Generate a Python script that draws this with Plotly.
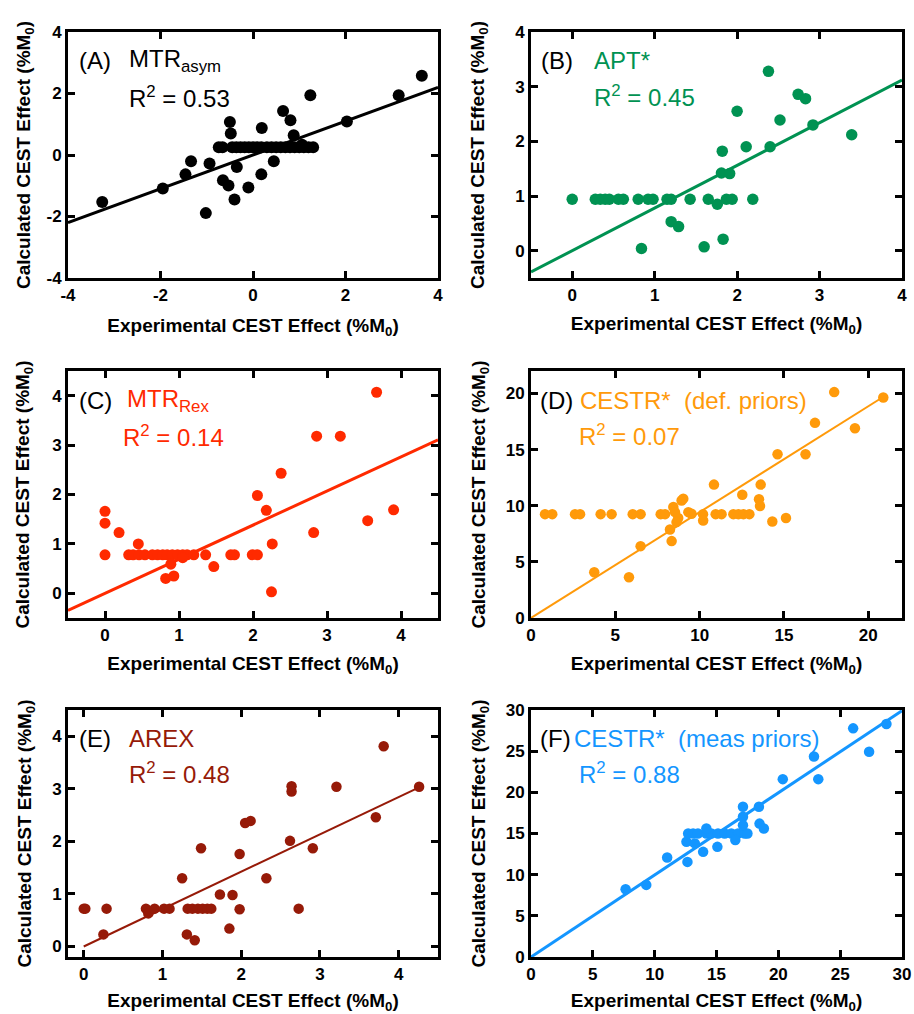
import plotly.graph_objects as go

# ---------------- data ----------------
A_x = [-3.26, -1.95, -1.46, -1.34, -1.02, -0.94, -0.65, -0.50, -0.48, -0.53, -0.40, -0.35, -0.10, 0.19, 0.18, 0.45,
       0.65, 0.81, 0.88, 1.06, 1.24, 2.03, 3.15, 3.65,
       -0.74, -0.66, -0.45, -0.36, -0.27, -0.18, -0.09, 0.0, 0.09, 0.18, 0.30, 0.40, 0.50, 0.60, 0.70, 0.80, 0.90,
       1.00, 1.10, 1.20, 1.30]
A_y = [-1.53, -1.09, -0.63, -0.20, -1.89, -0.28, -0.82, 1.07, 0.70, -0.99, -1.45, -0.39, -1.06, 0.88, -0.63, -0.20,
       1.43, 1.13, 0.64, 0.33, 1.94, 1.09, 1.94, 2.58,
       0.25, 0.25, 0.25, 0.25, 0.25, 0.25, 0.25, 0.25, 0.25, 0.25, 0.25, 0.25, 0.25, 0.25, 0.25, 0.25, 0.25,
       0.25, 0.25, 0.25, 0.25]

B_x = [0.0, 0.28, 0.34, 0.40, 0.45, 0.56, 0.62, 0.80, 0.92, 0.98, 1.15, 1.20, 1.43, 1.65, 1.87, 1.94, 2.19,
       1.76, 1.20, 1.29, 0.84, 1.60, 1.83, 1.81, 1.91, 1.82, 2.11, 2.40, 2.00, 2.52, 2.38, 2.74, 2.83, 2.92, 3.39]
B_y = [0.94, 0.94, 0.94, 0.94, 0.94, 0.94, 0.94, 0.94, 0.94, 0.94, 0.94, 0.94, 0.94, 0.94, 0.94, 0.94, 0.94,
       0.85, 0.53, 0.44, 0.04, 0.07, 0.21, 1.42, 1.41, 1.82, 1.90, 1.90, 2.55, 2.39, 3.28, 2.86, 2.78, 2.30, 2.12]

C_x = [0.0, 0.0, 0.0, 0.19, 0.45,
       0.32, 0.38, 0.46, 0.54, 0.64, 0.71, 0.78, 0.84, 0.91, 0.98, 1.05, 1.11, 1.20, 1.36, 1.70, 1.75, 1.99, 2.06,
       0.89, 0.82, 0.93, 1.05, 1.47, 2.06, 2.18, 2.26, 2.25, 2.38, 2.82, 2.86, 3.18, 3.55, 3.67, 3.90]
C_y = [1.66, 1.42, 0.78, 1.23, 1.00,
       0.78, 0.78, 0.78, 0.78, 0.78, 0.78, 0.78, 0.78, 0.78, 0.78, 0.78, 0.78, 0.78, 0.78, 0.78, 0.78, 0.78, 0.78,
       0.59, 0.30, 0.35, 0.72, 0.54, 1.98, 1.68, 1.00, 0.03, 2.43, 1.23, 3.18, 3.18, 1.47, 4.07, 1.69]

D_x = [0.83, 1.26, 2.61, 2.91, 4.13, 4.78, 6.03, 6.50, 7.69, 7.95, 10.20, 10.95, 11.30, 12.00, 12.30, 12.60, 12.95,
       3.75, 5.81, 6.50, 8.24, 8.34, 8.44, 8.54, 8.93, 9.03, 8.73, 8.63, 9.33, 9.52, 10.21, 10.85, 12.53, 13.52,
       13.58, 13.62, 14.31, 15.12, 14.62, 16.28, 16.84, 17.98, 19.21, 20.89]
D_y = [9.25, 9.25, 9.25, 9.25, 9.25, 9.25, 9.25, 9.25, 9.25, 9.25, 9.25, 9.25, 9.25, 9.25, 9.25, 9.25, 9.25,
       4.08, 3.63, 6.40, 7.89, 6.85, 9.88, 9.43, 10.47, 10.63, 8.90, 8.54, 9.43, 9.29, 8.69, 11.88, 10.98, 10.57,
       9.97, 11.88, 8.60, 8.90, 14.58, 14.58, 17.38, 20.12, 16.90, 19.64]

E_x = [0.0, 0.02, 0.29, 0.25, 0.79, 0.82, 0.90, 1.02, 1.09, 1.25, 1.32, 1.38, 1.45, 1.51, 1.57, 1.62,
       1.31, 1.41, 1.49, 1.73, 1.85, 1.89, 1.98, 1.98, 2.05, 2.12, 2.32, 2.62, 2.64, 2.64, 2.73, 2.91,
       3.21, 3.71, 3.81, 4.26]
E_y = [0.72, 0.72, 0.72, 0.23, 0.72, 0.63, 0.72, 0.72, 0.72, 1.30, 0.72, 0.72, 0.72, 0.72, 0.72, 0.72,
       0.23, 0.12, 1.87, 0.99, 0.34, 0.98, 0.71, 1.76, 2.35, 2.39, 1.30, 2.01, 3.05, 2.95, 0.72, 1.87,
       3.04, 2.46, 3.81, 3.04]

F_x = [7.65, 9.32, 11.01, 12.65, 12.57,
       12.71, 13.11, 13.50, 14.18, 14.58, 15.12, 15.66, 16.20, 16.74, 17.28, 17.50,
       14.18, 13.92, 13.25, 15.07, 16.52, 17.14, 17.14, 17.14, 18.43, 18.48, 18.83, 20.36, 22.88, 23.23,
       26.05, 27.34, 28.74]
F_y = [8.23, 8.76, 12.08, 11.55, 13.99,
       15.0, 15.0, 15.0, 15.0, 15.0, 15.0, 15.0, 15.0, 15.0, 15.0, 15.0,
       15.6, 12.77, 13.8, 13.38, 14.2, 18.25, 17.03, 16.0, 18.25, 16.2, 15.6, 21.6, 24.36, 21.6,
       27.77, 24.93, 28.29]

# fit lines: slope, x-start, x-end
fit_slope = [0.55, 0.78, 0.69, 0.943, 0.711, 0.997]
fit_x0 = [-4.0, -0.5, -0.5, 0.0, 0.0, 0.0]
fit_x1 = [4.0, 4.0, 4.5, 20.9, 4.26, 30.0]

panel_letters = ["(A)", "(B)", "(C)", "(D)", "(E)", "(F)"]
method_names = ["MTR<sub>asym</sub>", "APT*", "MTR<sub>Rex</sub>", "CESTR*  (def. priors)", "AREX",
                "CESTR*  (meas priors)"]
r2_values = ["0.53", "0.45", "0.14", "0.07", "0.48", "0.88"]

x_ranges = [[-4, 4], [-0.5, 4], [-0.5, 4.5], [0, 22], [-0.2, 4.5], [0, 30]]
y_ranges = [[-4, 4], [-0.5, 4], [-0.5, 4.5], [0, 22], [-0.2, 4.5], [0, 30]]
x_ticks = [[-4, -2, 0, 2, 4], [0, 1, 2, 3, 4], [0, 1, 2, 3, 4], [0, 5, 10, 15, 20], [0, 1, 2, 3, 4],
           [0, 5, 10, 15, 20, 25, 30]]
y_ticks = [[-4, -2, 0, 2, 4], [0, 1, 2, 3, 4], [0, 1, 2, 3, 4], [0, 5, 10, 15, 20], [0, 1, 2, 3, 4],
           [0, 5, 10, 15, 20, 25, 30]]

colors = ["#000000", "#009252", "#FF2A00", "#FF9A0A", "#961A08", "#1496FF"]
marker_sizes = [12, 11.5, 11, 10.5, 10.5, 10.5]
line_widths = [3, 3, 3, 2, 2, 3]

xs = [A_x, B_x, C_x, D_x, E_x, F_x]
ys = [A_y, B_y, C_y, D_y, E_y, F_y]

# ---------------- layout geometry (window pixels) ----------------
OFF = 0                       # body margin removed by post_script below
W, H = 914, 1014
col_px = [(68, 438), (531, 902)]
row_px = [(32, 278), (371, 618), (710, 957)]
ytitle_standoff = [11, 26, 18, 16, 16, 16]
xtitle_standoff = [15, 13, 13, 13, 13, 13]

FONT = "Liberation Sans"


def px_x(p):
    return (p - OFF) / W


def px_y(p):
    return 1 - (p - OFF) / H


def bold_labels(vals):
    return ["<b>" + str(v) + "</b>" for v in vals]


fig = go.Figure()
layout = dict(width=W, height=H, margin=dict(l=0, r=0, t=0, b=0, autoexpand=False),
              paper_bgcolor="white", plot_bgcolor="white", showlegend=False)
annotations = []

for i in range(6):
    r, c = divmod(i, 2)
    n = i + 1
    xa = "x" if n == 1 else f"x{n}"
    ya = "y" if n == 1 else f"y{n}"
    xkey = "xaxis" if n == 1 else f"xaxis{n}"
    ykey = "yaxis" if n == 1 else f"yaxis{n}"
    x0p, x1p = col_px[c]
    y0p, y1p = row_px[r]

    common = dict(showgrid=False, zeroline=False, showline=True, linecolor="black", linewidth=3,
                  mirror="ticks", ticks="inside", ticklen=7, tickwidth=2.5, tickcolor="black",
                  automargin=False,
                  tickfont=dict(family=FONT, size=17, color="black"))
    layout[xkey] = dict(common, domain=[px_x(x0p), px_x(x1p)], range=x_ranges[i],
                        tickmode="array", tickvals=x_ticks[i], ticktext=bold_labels(x_ticks[i]),
                        anchor=ya,
                        title=dict(text="<b>Experimental CEST Effect (%M<sub>0</sub>)</b>",
                                   standoff=xtitle_standoff[i],
                                   font=dict(family=FONT, size=19, color="black")))
    layout[ykey] = dict(common, domain=[px_y(y1p), px_y(y0p)], range=y_ranges[i],
                        tickmode="array", tickvals=y_ticks[i], ticktext=bold_labels(y_ticks[i]),
                        anchor=xa,
                        title=dict(text="<b>Calculated CEST Effect (%M<sub>0</sub>)</b>",
                                   standoff=ytitle_standoff[i],
                                   font=dict(family=FONT, size=19, color="black")))

    fig.add_trace(go.Scatter(x=[fit_x0[i], fit_x1[i]],
                             y=[fit_slope[i] * fit_x0[i], fit_slope[i] * fit_x1[i]],
                             mode="lines", line=dict(color=colors[i], width=line_widths[i]),
                             xaxis=xa, yaxis=ya, hoverinfo="skip"))
    fig.add_trace(go.Scatter(x=xs[i], y=ys[i], mode="markers",
                             marker=dict(color=colors[i], size=marker_sizes[i], line=dict(width=0)),
                             xaxis=xa, yaxis=ya, cliponaxis=False))

# annotation pixel positions (window pixels)
letter_pos = [(77, 61), (539, 61), (77, 400), (538, 400), (77, 738), (538, 738)]
name_pos = [(127, 61), (592, 61), (125, 400), (578, 400), (127, 738), (572, 738)]
r2_pos = [(127, 97), (592, 96), (121, 436), (577, 435), (127, 773), (577, 773)]

for i in range(6):
    lx, ly = letter_pos[i]
    nx, ny = name_pos[i]
    rx, ry = r2_pos[i]
    annotations.append(dict(text=panel_letters[i], x=px_x(lx), y=px_y(ly), xref="paper", yref="paper",
                            xanchor="left", yanchor="middle", showarrow=False,
                            font=dict(family=FONT, size=24, color="black")))
    annotations.append(dict(text=method_names[i], x=px_x(nx), y=px_y(ny), xref="paper", yref="paper",
                            xanchor="left", yanchor="middle", showarrow=False,
                            font=dict(family=FONT, size=24, color=colors[i])))
    annotations.append(dict(text="R<sup>2</sup> = " + r2_values[i], x=px_x(rx), y=px_y(ry), xref="paper",
                            yref="paper", xanchor="left", yanchor="middle", showarrow=False,
                            font=dict(family=FONT, size=24, color=colors[i])))

layout["annotations"] = annotations
fig.update_layout(**layout)
fig.write_html("out.html",
               config={"displayModeBar": False},
               post_script="document.body.style.margin='0';document.body.style.overflow='hidden';")
